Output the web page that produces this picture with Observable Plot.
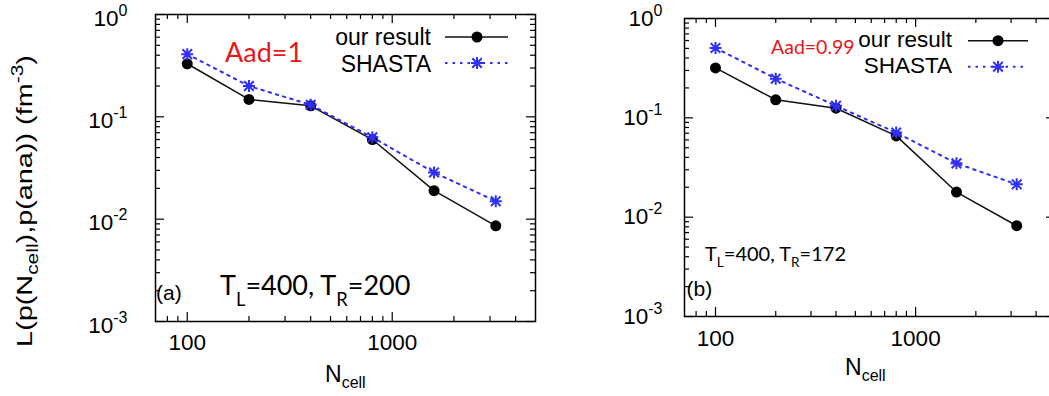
<!DOCTYPE html>
<html><head><meta charset="utf-8">
<script src="https://cdn.jsdelivr.net/npm/d3@7"></script>
<script src="https://cdn.jsdelivr.net/npm/@observablehq/plot@0.6"></script>
<style>
html,body{margin:0;padding:0;background:#fff;overflow:hidden}
#wrap{position:relative;width:1049px;height:396px;overflow:hidden;background:#fff}
#wrap svg{position:absolute;top:0}
</style></head><body><div id="wrap"></div>
<script>
// ---- data ----
const nCell = [100, 200, 400, 800, 1600, 3200];
const ourResultA = [0.33, 0.148, 0.128, 0.060, 0.019, 0.0086];
const shastaA    = [0.41, 0.20, 0.131, 0.063, 0.0286, 0.015];
const ourResultB = [0.318, 0.152, 0.125, 0.0658, 0.0179, 0.0082];
const shastaB    = [0.506, 0.248, 0.132, 0.071, 0.0348, 0.0214];
const seriesNames = ["our result", "SHASTA"];
const xTickLabels = [100, 1000];
const yTickLabels = [1, 0.1, 0.01, 0.001];
const xMinorTicks = [80, 90, 200, 300, 400, 500, 600, 700, 800, 900, 2000, 3000, 4000];
const yMinorTicks = [0.002, 0.003, 0.004, 0.005, 0.006, 0.007, 0.008, 0.009,
                     0.02, 0.03, 0.04, 0.05, 0.06, 0.07, 0.08, 0.09,
                     0.2, 0.3, 0.4, 0.5, 0.6, 0.7, 0.8, 0.9];

const BLUE = "#2f2ff5", RED = "#e8161b";
const SANS = "'Liberation Sans', Arial, Helvetica, sans-serif";
const CAL = "Lato, 'Open Sans', sans-serif";

const asterisk = {draw(ctx, size) {
  const r = Math.sqrt(size / Math.PI), d = r * 0.8;
  ctx.moveTo(-r, 0); ctx.lineTo(r, 0);
  ctx.moveTo(0, -r); ctx.lineTo(0, r);
  ctx.moveTo(-d, -d); ctx.lineTo(d, d);
  ctx.moveTo(-d, d); ctx.lineTo(d, -d);
}};

function rich(g, x, y, parts, o) {
  const t = g.append("text").attr("x", x).attr("y", y)
    .attr("font-family", o.family).attr("font-size", o.size)
    .attr("fill", o.fill || "#000").attr("text-anchor", o.anchor || "start");
  let shift = 0;
  for (const [s, k] of parts) {
    const target = k === "sub" ? (o.subShift ?? o.size * 0.3) : k === "sup" ? -(o.supShift ?? o.size * 0.42) : 0;
    const ts = t.append("tspan").attr("dy", target - shift).text(s);
    if (k) ts.attr("font-size", o.smallSize ?? o.size * 0.68);
    shift = target;
  }
  return t;
}

function panel(cfg) {
  const our = nCell.map((n, i) => ({n, v: cfg.our[i]}));
  const sh = nCell.map((n, i) => ({n, v: cfg.shasta[i]}));
  const fw = cfg.width - cfg.ml - cfg.mr, fh = cfg.height - cfg.mt - cfg.mb;
  const tick = (len) => ({
    bottom: {insetTop: fh - len}, top: {insetBottom: fh - len},
    left: {insetRight: fw - len}, right: {insetLeft: fw - len}
  });
  const M = tick(9), m = tick(5);
  const rs = {stroke: "#000", strokeWidth: 1.2};
  const chart = Plot.plot({
    width: cfg.width, height: cfg.height,
    marginLeft: cfg.ml, marginRight: cfg.mr, marginTop: cfg.mt, marginBottom: cfg.mb,
    style: {fontFamily: SANS, fontSize: "22px", color: "#000", background: "transparent"},
    x: {type: "log", domain: [70, 5000]},
    y: {type: "log", domain: [0.001, 1]},
    marks: [
      Plot.ruleX(xTickLabels, {x: d => d, ...M.bottom, ...rs}),
      Plot.ruleX(xTickLabels, {x: d => d, ...M.top, ...rs}),
      Plot.ruleX(xMinorTicks, {x: d => d, ...m.bottom, ...rs}),
      Plot.ruleX(xMinorTicks, {x: d => d, ...m.top, ...rs}),
      Plot.ruleY(yTickLabels, {y: d => d, ...M.left, ...rs}),
      Plot.ruleY(yTickLabels, {y: d => d, ...M.right, ...rs}),
      Plot.ruleY(yMinorTicks, {y: d => d, ...m.left, ...rs}),
      Plot.ruleY(yMinorTicks, {y: d => d, ...m.right, ...rs}),
      Plot.line(our, {x: "n", y: "v", stroke: "#111", strokeWidth: 1.5}),
      Plot.dot(our, {x: "n", y: "v", symbol: "circle", r: 5.5, fill: "#000"}),
      Plot.line(sh, {x: "n", y: "v", stroke: BLUE, strokeWidth: 2, strokeDasharray: "2.5,5"}),
      Plot.dot(sh, {x: "n", y: "v", symbol: asterisk, r: 6, stroke: BLUE, strokeWidth: 2, fill: "none"}),
      Plot.axisX(xTickLabels, {tickSize: 0, tickPadding: cfg.xPad, fontSize: 22.5, tickFormat: d => String(d), label: null}),
      Plot.axisY(yTickLabels, {tickSize: 0, tickPadding: cfg.yPad, dy: cfg.yDy, fontSize: 22.5, label: null,
        tickFormat: d => "10^" + Math.round(Math.log10(d))}),
      Plot.frame({stroke: "#000", strokeWidth: 1.5})
    ]
  });
  chart.style.left = cfg.left + "px";
  document.getElementById("wrap").appendChild(chart);
  const svg = d3.select(chart);
  svg.selectAll('g[aria-label="y-axis tick label"] text').each(function () {
    const [b, e] = this.textContent.split("^");
    const t = d3.select(this); t.text(null);
    t.append("tspan").text(b);
    t.append("tspan").attr("dy", -10).attr("font-size", 16).text(e);
  });
  svg.selectAll('g[aria-label="y-axis tick label"], g[aria-label="x-axis tick label"]').attr("font-size", 22.5);
  const g = svg.append("g");
  // x axis label
  rich(g, cfg.xlab[0], cfg.xlab[1], [["N"], ["cell", "sub"]],
    {family: SANS, size: 23, smallSize: 16, subShift: 6});
  // legend
  const L = cfg.legend;
  rich(g, L.textX, L.b1, [[seriesNames[0]]], {family: SANS, size: L.size, anchor: "end"});
  rich(g, L.textX, L.b2, [[seriesNames[1]]], {family: SANS, size: L.size, anchor: "end"});
  g.append("line").attr("x1", L.x0).attr("x2", L.x1).attr("y1", L.y1).attr("y2", L.y1)
    .attr("stroke", "#111").attr("stroke-width", 1.5);
  g.append("circle").attr("cx", L.xm).attr("cy", L.y1).attr("r", 5.5).attr("fill", "#000");
  g.append("line").attr("x1", L.x0).attr("x2", L.x1).attr("y1", L.y2).attr("y2", L.y2)
    .attr("stroke", BLUE).attr("stroke-width", 2).attr("stroke-dasharray", "2.5,5");
  g.append("path").attr("d", d3.symbol(asterisk, Math.PI * 36)())
    .attr("transform", `translate(${L.xm},${L.y2})`)
    .attr("fill", "none").attr("stroke", BLUE).attr("stroke-width", 2);
  // annotations
  const A = cfg.ann;
  rich(g, A.aad[0], A.aad[1], [[A.aadText]], {family: CAL, size: A.aad[2], fill: RED});
  rich(g, A.t[0], A.t[1], [["T"], ["L", "sub"], ["=400, T"], ["R", "sub"], [A.tText]],
    {family: CAL, size: A.t[2], smallSize: A.t[2] * 0.68, subShift: A.t[3]});
  rich(g, A.p[0], A.p[1], [[A.pText]], {family: SANS, size: A.p[2]});
  return g;
}

const gA = panel({
  left: 0, width: 545, height: 396, ml: 155, mr: 10, mt: 14, mb: 75,
  our: ourResultA, shasta: shastaA, xPad: 13, yPad: 28, yDy: 4,
  xlab: [325, 382],
  legend: {size: 23, textX: 431, b1: 45, b2: 71.5, x0: 445, x1: 508, xm: 477, y1: 37, y2: 63},
  ann: {aad: [225, 62, 27], aadText: "Aad=1", t: [220, 295, 27, 11], tText: "=200", p: [156, 300, 21], pText: "(a)"}
});
panel({
  left: 560, width: 505, height: 396, ml: 124, mr: 10, mt: 18, mb: 80,
  our: ourResultB, shasta: shastaB, xPad: 14, yPad: 22, yDy: 0,
  xlab: [285, 375],
  legend: {size: 22.5, textX: 392, b1: 46.5, b2: 73, x0: 408, x1: 468, xm: 438, y1: 40.7, y2: 66.7},
  ann: {aad: [211, 53.5, 19.5], aadText: "Aad=0.99", t: [145, 261, 20, 6], tText: "=172", p: [126.5, 296, 21], pText: "(b)"}
});

// y-axis label on the left panel (rotated)
const yl = rich(gA, 0, 0, [["L(p(N"], ["cell", "sub"], ["),p(ana)) (fm"], ["-3", "sup"], [")"]],
  {family: SANS, size: 22, smallSize: 16, subShift: 6, supShift: 9, anchor: "middle"});
const natural = yl.node().getComputedTextLength();
yl.attr("transform", `translate(32,201) rotate(-90) scale(${292 / natural},1)`);
</script></body></html>
